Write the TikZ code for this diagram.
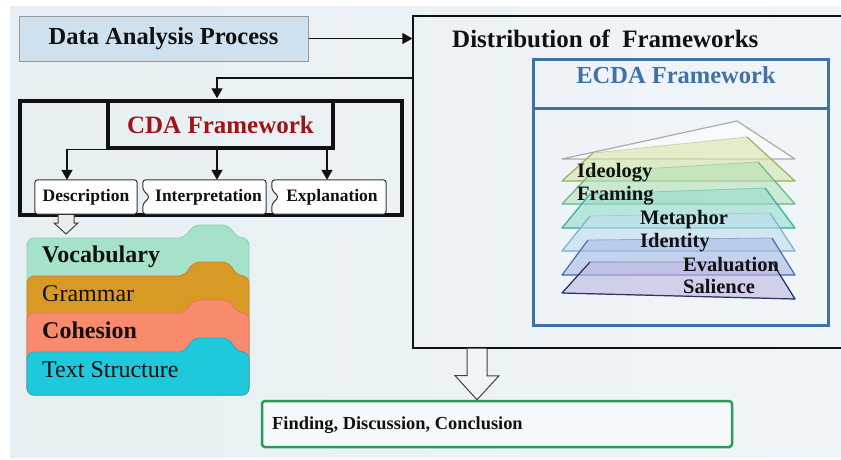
\documentclass[tikz,border=0pt]{standalone}
\usepackage{fontspec}
\setmainfont{Liberation Serif}
\usetikzlibrary{arrows.meta,calc}

\definecolor{bgleft}{RGB}{231,239,243}
\definecolor{bgright}{RGB}{240,245,248}
\definecolor{inkblack}{RGB}{17,17,17}
\definecolor{procblue}{RGB}{207,225,238}
\definecolor{cdared}{RGB}{160,20,24}
\definecolor{ecdablue}{RGB}{64,114,168}
\definecolor{findgreen}{RGB}{46,154,90}
\definecolor{vocabmint}{RGB}{165,226,201}
\definecolor{vocabedge}{RGB}{140,208,180}
\definecolor{grammarochre}{RGB}{216,154,37}
\definecolor{grammaredge}{RGB}{196,136,30}
\definecolor{cohesionsalmon}{RGB}{249,138,110}
\definecolor{cohesionedge}{RGB}{230,120,96}
\definecolor{structcyan}{RGB}{31,201,220}
\definecolor{structedge}{RGB}{24,176,196}
\definecolor{ideofill}{RGB}{213,230,168}
\definecolor{ideoedge}{RGB}{160,178,100}
\definecolor{framfill}{RGB}{181,226,184}
\definecolor{framedge}{RGB}{110,186,136}
\definecolor{metafill}{RGB}{149,220,203}
\definecolor{metaedge}{RGB}{56,178,162}
\definecolor{identfill}{RGB}{190,222,238}
\definecolor{identedge}{RGB}{130,180,206}
\definecolor{evalfill}{RGB}{168,188,232}
\definecolor{evaledge}{RGB}{80,112,178}
\definecolor{salfill}{RGB}{188,184,226}
\definecolor{saledge}{RGB}{44,50,100}

\begin{document}
\begin{tikzpicture}[
    x=1pt,y=-1pt,
    arrowtip/.style={
      -{Triangle[width=11pt,length=10pt]}
    },
    flowline/.style={line width=1.4pt,draw=inkblack,arrowtip},
    hollowarrow/.style={draw=inkblack!80,line width=1pt,line join=miter},
    procbox/.style={draw=gray!80,line width=1pt,fill=procblue,
      minimum width=289pt,minimum height=45pt,inner sep=0pt,
      font=\fontsize{24.5}{28}\selectfont\bfseries,text=inkblack},
    framebox/.style={draw=inkblack,line width=1.2pt,inner sep=0pt},
    cdabox/.style={draw=inkblack,line width=3.5pt,inner sep=0pt},
    stepbox/.style={inner sep=0pt,minimum height=34pt,
      font=\fontsize{17.5}{20}\selectfont\bfseries,text=inkblack},
    stepline/.style={draw=inkblack!85,line width=1pt,fill=white,rounded corners=3pt},
    tabsheet/.style={line width=0.8pt,rounded corners=7pt},
    sheetlabel/.style={anchor=base west,inner sep=0pt,text=inkblack,
      font=\fontsize{24}{28}\selectfont},
    layerfill/.style={line width=0.8pt,fill opacity=0.6,draw opacity=0.45,line join=round},
    layeredge/.style={line width=1.2pt,line join=round},
    layerlabel/.style={anchor=base west,inner sep=0pt,text=inkblack,
      font=\fontsize{20.5}{24}\selectfont\bfseries}
  ]
    \clip (0,0) rectangle (841,459);
    \shade[left color=bgleft,right color=bgright] (10,6) rectangle (841,457);

    \node[procbox] (DataProc) at (163.5,38.5) {Data Analysis Process};

    \node[framebox,minimum width=437pt,minimum height=332pt] (DistBox) at (631.5,182) {};
    \node[anchor=base west,inner sep=0pt,text=inkblack,
      font=\fontsize{25}{29}\selectfont\bfseries] (DistTitle) at (452,47) {Distribution of~ Frameworks};

    \draw[flowline] (DataProc.east) -- (DataProc.east -| DistBox.west);

    \node[draw=ecdablue,line width=3pt,minimum width=295pt,minimum height=266pt,inner sep=0pt] (EcdaBox) at (680.5,192) {};
    \draw[draw=ecdablue,line width=3pt] (EcdaBox.west |- 0,108) -- (EcdaBox.east |- 0,108);
    \node[anchor=base,inner sep=0pt,text=ecdablue,
      font=\fontsize{24.5}{28}\selectfont\bfseries] (EcdaTitle) at (676,83) {ECDA Framework};

    \draw[layeredge,draw=gray!65,fill=white,fill opacity=0.5] (562,159) -- (737,121) -- (795,159) -- cycle;
    \draw[layerfill,draw=ideoedge,fill=ideofill] (562,181) -- (795,181) -- (747,137) -- (593,153) -- cycle;
    \draw[layeredge,draw=ideoedge] (593,153) -- (562,181) -- (795,181) -- (747,137);
    \draw[layerfill,draw=framedge,fill=framfill] (562,204) -- (795,204) -- (758,162) -- (592,172) -- cycle;
    \draw[layeredge,draw=framedge] (592,172) -- (562,204) -- (795,204) -- (758,162);
    \draw[layerfill,draw=metaedge,fill=metafill] (562,228) -- (795,228) -- (765,188) -- (590,194) -- cycle;
    \draw[layeredge,draw=metaedge] (590,194) -- (562,228) -- (795,228) -- (765,188);
    \draw[layerfill,draw=identedge,fill=identfill] (562,251) -- (795,251) -- (770,213) -- (590,216) -- cycle;
    \draw[layeredge,draw=identedge] (590,216) -- (562,251) -- (795,251) -- (770,213);
    \draw[layerfill,draw=evaledge,fill=evalfill] (562,275) -- (795,275) -- (772,238) -- (588,240) -- cycle;
    \draw[layeredge,draw=evaledge] (588,240) -- (562,275) -- (795,275) -- (772,238);
    \draw[layerfill,draw=saledge,fill=salfill] (562,293) -- (795,299) -- (772,262) -- (590,262) -- cycle;
    \draw[layeredge,draw=saledge] (590,262) -- (562,293) -- (795,299) -- (772,262);

    \node[layerlabel] (Ideology) at (577,177) {Ideology};
    \node[layerlabel] (Framing) at (577,200) {Framing};
    \node[layerlabel] (Metaphor) at (640,224) {Metaphor};
    \node[layerlabel] (Identity) at (640,247) {Identity};
    \node[layerlabel] (Evaluation) at (683,271) {Evaluation};
    \node[layerlabel] (Salience) at (683,293) {Salience};

    \node[cdabox,minimum width=382pt,minimum height=114pt] (CdaFrame) at (211,158) {};
    \node[cdabox,minimum width=225pt,minimum height=47pt,text=cdared,
      font=\fontsize{25}{29}\selectfont\bfseries] (CdaTitle) at (220.5,124.5) {CDA Framework};

    \coordinate (CdaFeed) at (413,78);
    \coordinate (MidDrop) at (217,0);
    \coordinate (RightDrop) at (327,0);
    \draw[flowline,shorten >=1pt] (CdaFeed) -| (MidDrop |- CdaFrame.north);

    \node[stepbox,minimum width=102pt] (Desc) at (86,197) {};
    \node[stepbox,minimum width=123pt] (Interp) at (204.5,197) {};
    \node[stepbox,minimum width=114pt] (Expl) at (329,197) {};
    \draw[stepline] (Desc.north west) rectangle (Desc.south east);
    \draw[stepline] (Interp.north west) -- (Interp.north east) -- (Interp.south east)
      -- (Interp.south west) -- ([yshift=-7pt]Interp.west) -- ([xshift=7pt]Interp.west)
      -- ([yshift=7pt]Interp.west) -- cycle;
    \draw[stepline] (Expl.north west) -- (Expl.north east) -- (Expl.south east)
      -- (Expl.south west) -- ([yshift=-7pt]Expl.west) -- ([xshift=7pt]Expl.west)
      -- ([yshift=7pt]Expl.west) -- cycle;
    \node[stepbox] at (Desc) {Description};
    \node[stepbox] at ([xshift=4pt]Interp.center) {Interpretation};
    \node[stepbox] at ([xshift=3pt]Expl.center) {Explanation};

    \draw[flowline] (CdaTitle.south west) -| ([xshift=-19pt]Desc.north);
    \draw[flowline] (MidDrop |- CdaTitle.south) -- (MidDrop |- Interp.north);
    \draw[flowline] (RightDrop |- CdaTitle.south) -- (RightDrop |- Expl.north);

    \draw[hollowarrow,fill=gray!15] (58,215) -- (58,223) -- (54,223) -- (66,234)
      -- (78,223) -- (74,223) -- (74,215);

    \draw[tabsheet,draw=vocabedge,fill=vocabmint] (27,395) -- (27,238) -- (185,238) -- (193,225)
      -- (229,225) -- (237,238) -- (249,238) -- (249,395) -- cycle;
    \draw[tabsheet,draw=grammaredge,fill=grammarochre] (27,395) -- (27,276) -- (185,276) -- (193,262)
      -- (229,262) -- (237,276) -- (249,276) -- (249,395) -- cycle;
    \draw[tabsheet,draw=cohesionedge,fill=cohesionsalmon] (27,395) -- (27,313) -- (185,313) -- (193,300)
      -- (229,300) -- (237,313) -- (249,313) -- (249,395) -- cycle;
    \draw[tabsheet,draw=structedge,fill=structcyan] (27,395) -- (27,352) -- (185,352) -- (193,338)
      -- (229,338) -- (237,352) -- (249,352) -- (249,395) -- cycle;

    \node[sheetlabel,font=\fontsize{24}{28}\selectfont\bfseries] (Vocab) at (42,262) {Vocabulary};
    \node[sheetlabel] (Grammar) at (42,301) {Grammar};
    \node[sheetlabel,font=\fontsize{24}{28}\selectfont\bfseries] (Cohesion) at (42,338) {Cohesion};
    \node[sheetlabel] (TextStruct) at (42,377) {Text Structure};

    \node[draw=findgreen,line width=2.5pt,rounded corners=3pt,fill=white!40!bgright,
      minimum width=470pt,minimum height=46pt,inner sep=0pt] (FindBox) at (497,424) {};
    \node[anchor=base west,inner sep=0pt,text=inkblack,
      font=\fontsize{18.4}{22}\selectfont\bfseries] (FindText) at (272,429) {Finding, Discussion, Conclusion};

    \coordinate (BlockDrop) at (477,0);
    \draw[hollowarrow,fill=bgright] (BlockDrop |- DistBox.south) ++(-10,0) -- ++(0,27) -- ++(-12,0)
      -- (BlockDrop |- FindBox.north) -- ++(22,-24) -- ++(-12,0) -- ++(0,-27);
  \end{tikzpicture}
\end{document}
